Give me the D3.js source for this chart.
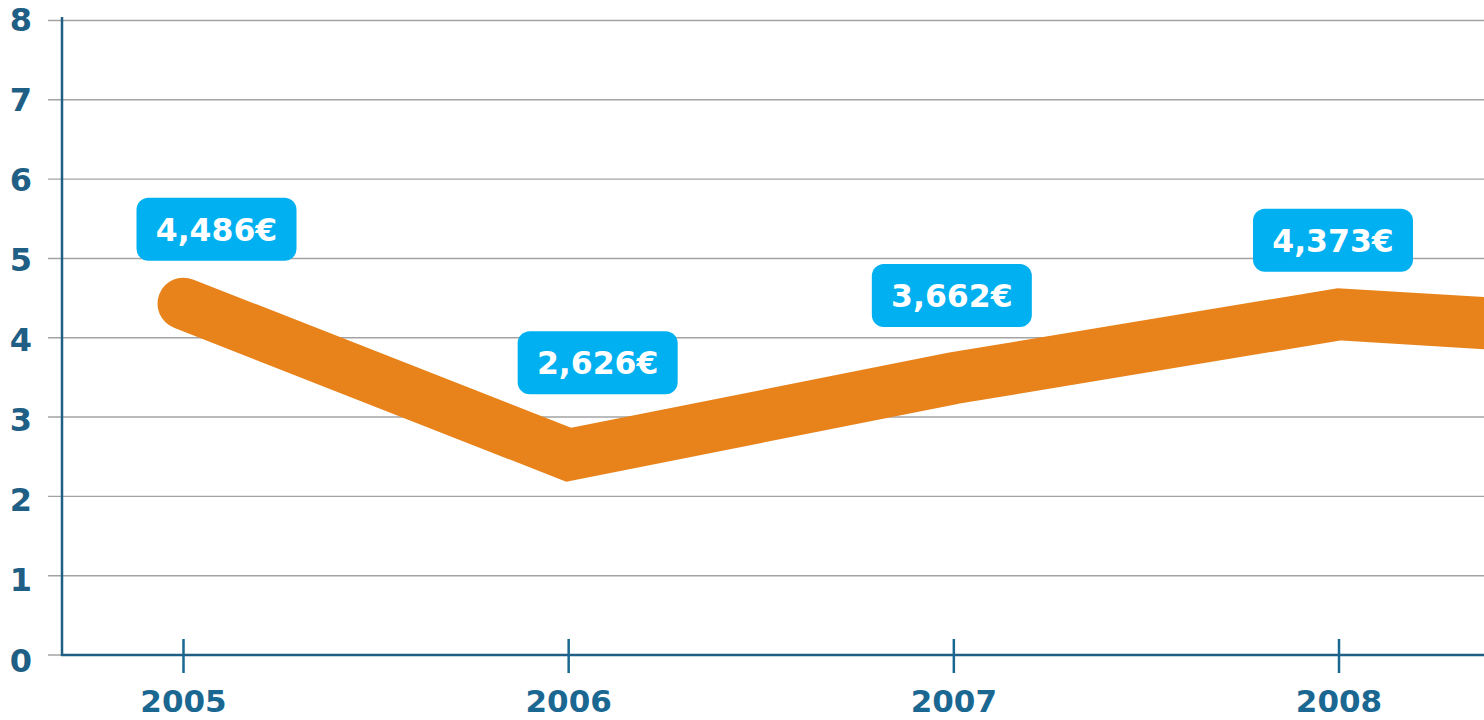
<!DOCTYPE html>
<head>
  <meta charset="utf-8">
  <style>
    body { margin: 0; background: #fff; }
    svg { display: block; font-family: "DejaVu Sans", sans-serif; font-weight: bold; }
  </style>
  <script src="https://cdn.jsdelivr.net/npm/d3@7"></script>
</head>
<body>
<div id=chart></div>
<script>
// data
const years = [2005, 2006, 2007, 2008, 2009]
const values = [4.43, 2.525, 3.49, 4.295, 4.0]   // where the thick line runs
const labelYears = [2005, 2006, 2007, 2008]
const labelValues = [4.486, 2.626, 3.662, 4.373]
const labelTexts = ['4,486€', '2,626€', '3,662€', '4,373€']
const yTicks = [0, 1, 2, 3, 4, 5, 6, 7, 8]
const xTicks = [2005, 2006, 2007, 2008]

// labels are not placed quite evenly in the original
const labelShift = [[33, -70], [29, -84], [-2, -69], [-6, -68]]

const width = 1484, height = 720
const axisColor = '#1f5f85', textColor = '#1a6792'
const orange = '#e8831b', blue = '#00b0f0'

const svg = d3.select('#chart').append('svg')
  .attr('width', width).attr('height', height)

const x = d3.scaleLinear().domain([2005, 2008]).range([183.5, 1339])
const y = d3.scaleLinear().domain([0, 8]).range([655, 20.5])
const yLabel = y.copy().range([660, 19.5])

// grid
svg.append('g').selectAll('line').data(yTicks).join('line')
  .attr('x1', 48).attr('x2', width)
  .attr('y1', d => y(d)).attr('y2', d => y(d))
  .attr('stroke', '#a3a3a3').attr('stroke-width', 1.4)

// y labels
svg.append('g').selectAll('text').data(yTicks).join('text')
  .attr('x', 32).attr('y', d => yLabel(d))
  .attr('dy', '0.36em')
  .attr('text-anchor', 'end')
  .attr('font-size', 32)
  .attr('fill', axisColor)
  .text(d => d)

// the line
const clip = svg.append('clipPath').attr('id', 'clip')
clip.append('rect').attr('width', width).attr('height', height)
svg.append('path')
  .datum(years.map((yr, i) => [yr, values[i]]))
  .attr('clip-path', 'url(#clip)')
  .attr('fill', 'none')
  .attr('stroke', orange)
  .attr('stroke-width', 52)
  .attr('stroke-linecap', 'round')
  .attr('stroke-linejoin', 'miter')
  .attr('d', d3.line().x(d => x(d[0])).y(d => y(d[1])))

// axes
svg.append('line')
  .attr('x1', 62).attr('x2', 62).attr('y1', 17).attr('y2', 656)
  .attr('stroke', axisColor).attr('stroke-width', 2.5)
svg.append('line')
  .attr('x1', 61).attr('x2', width).attr('y1', 655).attr('y2', 655)
  .attr('stroke', axisColor).attr('stroke-width', 2.5)

svg.append('g').selectAll('line').data(xTicks).join('line')
  .attr('x1', d => x(d)).attr('x2', d => x(d))
  .attr('y1', 639).attr('y2', 673)
  .attr('stroke', textColor).attr('stroke-width', 2.5)

svg.append('g').selectAll('text').data(xTicks).join('text')
  .attr('x', d => x(d)).attr('y', 712)
  .attr('text-anchor', 'middle')
  .attr('font-size', 31)
  .attr('fill', textColor)
  .text(d => d)

// value badges
const badge = svg.append('g').selectAll('g').data(labelYears).join('g')
  .attr('transform', (d, i) => `translate(${x(d) + labelShift[i][0]},${y(labelValues[i]) + labelShift[i][1]})`)
badge.append('rect')
  .attr('x', -80).attr('y', -31.5).attr('width', 160).attr('height', 63)
  .attr('rx', 12)
  .attr('fill', blue)
badge.append('text')
  .attr('text-anchor', 'middle').attr('dy', '0.36em')
  .attr('font-size', 31.5)
  .attr('fill', '#fff')
  .text((d, i) => labelTexts[i])
</script>
</body>
